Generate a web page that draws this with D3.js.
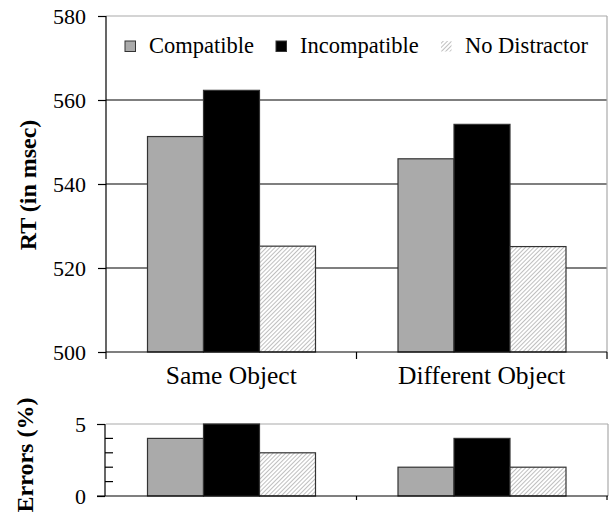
<!DOCTYPE html>
<html>
<head>
<meta charset="utf-8">
<script src="https://cdn.jsdelivr.net/npm/d3@7"></script>
<style>
  html, body { margin: 0; padding: 0; background: #fff; }
  svg { display: block; }
  svg text { font-family: "Liberation Serif", serif !important; }
</style>
</head>
<body>
<svg id="chart" width="613" height="517" font-family="Liberation Serif"></svg>
<script>
const categories = ["Same Object", "Different Object"];
const seriesNames = ["Compatible", "Incompatible", "No Distractor"];
const rtCompatible = [551.3, 546.0];
const rtIncompatible = [562.3, 554.2];
const rtNoDistractor = [525.2, 525.1];
const errCompatible = [4, 2];
const errIncompatible = [5, 4];
const errNoDistractor = [3, 2];
const rtTicks = [500, 520, 540, 560, 580];
const errTicks = [0, 5];
const errMinorTicks = [1, 2, 3, 4];

const rtSeries = [rtCompatible, rtIncompatible, rtNoDistractor];
const errSeries = [errCompatible, errIncompatible, errNoDistractor];

const FONT = "Liberation Serif";
const svg = d3.select("#chart");
const defs = svg.append("defs");
const pat = defs.append("pattern").attr("id", "hatch")
  .attr("patternUnits", "userSpaceOnUse").attr("width", 3).attr("height", 3)
  .attr("patternTransform", "rotate(45)");
pat.append("rect").attr("width", 3).attr("height", 3).attr("fill", "#fff");
pat.append("line").attr("x1", 0).attr("y1", 0).attr("x2", 0).attr("y2", 3)
  .attr("stroke", "#8a8a8a").attr("stroke-width", 1.1);

const fills = ["#aaaaaa", "#000000", "url(#hatch)"];

const plotLeft = 106, plotRight = 607;
const x0 = d3.scaleBand().domain(categories).range([plotLeft, plotRight]).padding(0);
const x1 = d3.scaleBand().domain(seriesNames).range([41.5, 209.5]).padding(0);

// ---------- Top chart ----------
const yTop = d3.scaleLinear().domain([500, 580]).range([352, 16]);
const gTop = svg.append("g");

gTop.selectAll("line.grid").data(rtTicks.filter(t => t > 500 && t < 580)).enter()
  .append("line").attr("x1", plotLeft).attr("x2", plotRight)
  .attr("y1", d => yTop(d)).attr("y2", d => yTop(d))
  .attr("stroke", "#000").attr("stroke-width", 1.2);
gTop.append("line").attr("x1", plotLeft).attr("x2", plotRight).attr("y1", yTop(580)).attr("y2", yTop(580))
  .attr("stroke", "#aaa").attr("stroke-width", 1.2);
gTop.append("line").attr("x1", plotRight).attr("x2", plotRight).attr("y1", yTop(580)).attr("y2", yTop(500))
  .attr("stroke", "#aaa").attr("stroke-width", 1.2);

seriesNames.forEach((s, i) => {
  gTop.selectAll(null).data(categories).enter().append("rect")
    .attr("x", c => x0(c) + x1(s))
    .attr("width", x1.bandwidth())
    .attr("y", (c, j) => yTop(rtSeries[i][j]))
    .attr("height", (c, j) => yTop(500) - yTop(rtSeries[i][j]))
    .attr("fill", fills[i]).attr("stroke", "#333").attr("stroke-width", 1.2);
});

const yAxisTop = d3.axisLeft(yTop).tickValues(rtTicks).tickSize(8).tickPadding(12).tickFormat(d3.format("d"));
const gyt = gTop.append("g").attr("transform", `translate(${plotLeft},0)`).call(yAxisTop)
  .attr("font-family", FONT);
gyt.select(".domain").attr("stroke", "#000").attr("stroke-width", 1.2).attr("d", `M0,${yTop(580)}V${yTop(500)}`);
gyt.selectAll(".tick line").attr("stroke", "#000").attr("stroke-width", 1.2);
gyt.selectAll(".tick text").attr("font-size", 22).attr("fill", "#000").attr("font-family", FONT);

const xAxisTop = d3.axisBottom(x0).tickSize(0).tickPadding(14);
const gxt = gTop.append("g").attr("transform", `translate(0,${yTop(500)})`).call(xAxisTop)
  .attr("font-family", FONT);
gxt.select(".domain").attr("stroke", "#000").attr("stroke-width", 1.2).attr("d", `M${plotLeft},0H${plotRight}`);
gxt.selectAll(".tick text").attr("font-size", 25.5).attr("fill", "#000").attr("font-family", FONT);
const sepTop = [plotLeft, x0(categories[1]), plotRight];
gxt.selectAll("line.sep").data(sepTop).enter().append("line")
  .attr("x1", d => d).attr("x2", d => d).attr("y1", 0).attr("y2", 7)
  .attr("stroke", "#000").attr("stroke-width", 1.2);

svg.append("text").attr("transform", "translate(36,185) rotate(-90)")
  .attr("text-anchor", "middle").attr("font-weight", "bold").attr("font-size", 24)
  .attr("font-family", FONT).text("RT (in msec)");

const legendX = [125, 276, 441];
const legend = svg.append("g");
seriesNames.forEach((s, i) => {
  legend.append("rect").attr("x", legendX[i]).attr("y", 41).attr("width", 10.5).attr("height", 10.5)
    .attr("fill", fills[i]).attr("stroke", i === 2 ? "none" : "#333").attr("stroke-width", 1);
  legend.append("text").attr("x", legendX[i] + 24).attr("y", 53).attr("font-size", 22.5)
    .attr("font-family", FONT).text(s);
});

// ---------- Bottom chart ----------
const yBot = d3.scaleLinear().domain([0, 5]).range([496, 424]);
const gBot = svg.append("g");
const rightB = 608;
gBot.append("line").attr("x1", plotLeft).attr("x2", rightB).attr("y1", yBot(5)).attr("y2", yBot(5))
  .attr("stroke", "#aaa").attr("stroke-width", 1.2);
gBot.append("line").attr("x1", rightB).attr("x2", rightB).attr("y1", yBot(5)).attr("y2", yBot(0))
  .attr("stroke", "#aaa").attr("stroke-width", 1.2);

seriesNames.forEach((s, i) => {
  gBot.selectAll(null).data(categories).enter().append("rect")
    .attr("x", c => x0(c) + x1(s))
    .attr("width", x1.bandwidth())
    .attr("y", (c, j) => yBot(errSeries[i][j]))
    .attr("height", (c, j) => yBot(0) - yBot(errSeries[i][j]))
    .attr("fill", fills[i]).attr("stroke", "#333").attr("stroke-width", 1.2);
});

const yAxisBot = d3.axisLeft(yBot).tickValues(errTicks).tickSize(8).tickPadding(11).tickFormat(d3.format("d"));
const gyb = gBot.append("g").attr("transform", `translate(${plotLeft - 1},0)`).call(yAxisBot)
  .attr("font-family", FONT);
gyb.select(".domain").attr("stroke", "#000").attr("stroke-width", 1.2).attr("d", `M0,${yBot(5)}V${yBot(0)}`);
gyb.selectAll(".tick line").attr("stroke", "#000").attr("stroke-width", 1.2);
gyb.selectAll(".tick text").attr("font-size", 22).attr("fill", "#000").attr("font-family", FONT);
gyb.selectAll("line.minor").data(errMinorTicks).enter().append("line")
  .attr("x1", 0).attr("x2", 8).attr("y1", d => yBot(d)).attr("y2", d => yBot(d))
  .attr("stroke", "#000").attr("stroke-width", 1.2);

const gxb = gBot.append("g").attr("transform", `translate(0,${yBot(0)})`);
gxb.append("line").attr("x1", plotLeft - 9).attr("x2", rightB).attr("y1", 0).attr("y2", 0)
  .attr("stroke", "#000").attr("stroke-width", 1.2);
gxb.selectAll("line.sep").data([x0(categories[1]), plotRight]).enter().append("line")
  .attr("x1", d => d).attr("x2", d => d).attr("y1", 0).attr("y2", 4)
  .attr("stroke", "#000").attr("stroke-width", 1.2);

svg.append("text").attr("transform", "translate(33,455) rotate(-90)")
  .attr("text-anchor", "middle").attr("font-weight", "bold").attr("font-size", 24)
  .attr("font-family", FONT).text("Errors (%)");
</script>
</body>
</html>
